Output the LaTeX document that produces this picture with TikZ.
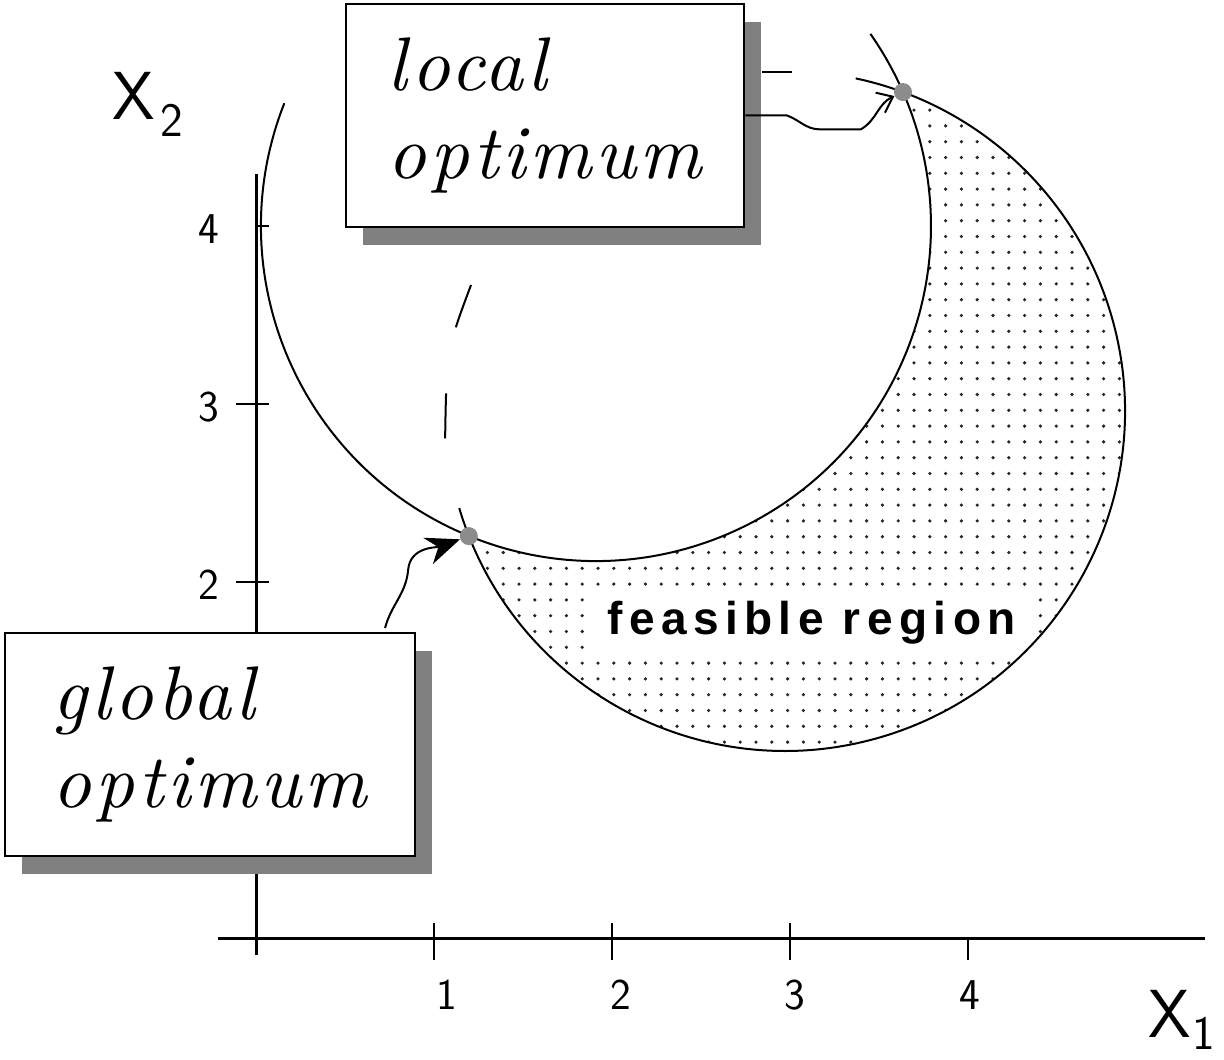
\documentclass[tikz,border=0pt]{standalone}
\usepackage{fontspec}
\usepackage{tikz}
\usetikzlibrary{arrows.meta,shadows}

\newfontfamily\optfont[LetterSpace=5]{lmroman10-italic.otf}
\newfontfamily\regionfont[LetterSpace=14]{Liberation Sans}

\begin{document}
\begin{tikzpicture}[
      x=89pt, y=89pt,
      bound/.style={line width=1pt},
      axisln/.style={line width=1.5pt},
      tk/.style={line width=1pt},
      ticklbl/.style={font=\sffamily\fontsize{22}{22}\selectfont, inner sep=0pt},
      axlbl/.style={font=\sffamily\fontsize{34}{34}\selectfont, inner sep=0pt},
      optbox/.style={draw, line width=1.4pt, fill=white, align=left, inner sep=0pt,
        minimum height=111.5pt, font=\optfont\fontsize{38}{44}\selectfont,
        drop shadow={shadow xshift=8.5pt, shadow yshift=-9pt, fill=black!50, opacity=1}},
      optdot/.style={circle, fill=black!45, inner sep=0pt, minimum size=9pt},
      region/.style={fill=white, inner sep=0pt, minimum width=221.5pt, minimum height=32.5pt,
        font=\regionfont\bfseries\fontsize{23}{23}\selectfont},
      contour/.style={line width=1pt, dash pattern=on 22.5pt off 33.5pt},
      ar/.style={line width=1pt, -{Straight Barb[length=7pt, width=11pt]}},
      gar/.style={line width=1pt, -{Stealth[length=17pt, width=14pt]}}]
    \useasboundingbox (-1.4382,-0.6798) rectangle (5.4382,5.2697);

    \coordinate (cfeas) at (2.972,2.961);
    \coordinate (cobj)  at (1.910,4.0);
    \coordinate (gpt)   at (1.1957,2.2579);
    \coordinate (lpt)   at (3.6346,4.7524);

    % dotted feasible set
    \begin{scope}
      \clip (gpt) arc[start angle=201.6, end angle=429.7, radius=1.910]
        arc[start angle=23.6, end angle=-112.3, radius=1.882] -- cycle;
      \foreach \i in {0,...,43}
        \foreach \j in {0,...,43}
          \fill[black!85] ({1.1227+0.08876*\i},{1.0119+0.08876*\j}) circle[radius=0.9pt];
    \end{scope}
    \node[region] (feas) at (3.121,1.772) {feasible region};

    \draw[bound] ([shift={(196.6:1.910)}]cfeas) arc[start angle=196.6, end angle=438, radius=1.910];
    \draw[bound] ([shift={(158.5:1.882)}]cobj) arc[start angle=158.5, end angle=395, radius=1.882];
    \draw[contour] (1.208,3.669) .. controls (1.07,3.30) .. (1.062,2.77);

    % axes
    \draw[axisln] (-0.2135,0) -- (5.331,0);
    \draw[axisln] (0,-0.096) -- (0,4.29);
    \foreach \t in {1,2,3}
      \draw[tk] (\t,0.084) -- (\t,-0.124);
    \draw[tk] (4,0) -- (4,-0.124);
    \foreach \t in {2,3}
      \draw[tk] (-0.112,\t) -- (0.073,\t);
    \draw[tk] (0,4) -- (0.073,4);
    \foreach \t/\px in {1/1.073, 2/2.051, 3/3.028, 4/4.011}
      \node[ticklbl] (xt\t) at (\px,-0.320) {\t};
    \foreach \t in {2,3,4}
      \node[ticklbl] (yt\t) at (-0.264,\t-0.015) {\t};
    \node[axlbl, anchor=base west] (xtwo) at (-0.809,4.596)
      {X\hspace{3pt}\raisebox{-8.5pt}{\fontsize{24}{24}\selectfont 2}};
    \node[axlbl, anchor=base west] (xone) at (5.01,-0.56)
      {X\hspace{1pt}\raisebox{-6pt}{\fontsize{24}{24}\selectfont 1}};

    % labels
    \node[optbox, minimum width=199pt] (lbox) at (1.624,4.621) {local\\optimum};
    \node[optbox, minimum width=205pt] (gbox) at (-0.258,1.087) {global\\optimum};
    \coordinate (stubA) at (2.843,4.865);
    \coordinate (stubB) at (3.011,4.865);
    \draw[bound] (stubA) -- (stubB);

    \node[optdot] (gopt) at (gpt) {};
    \node[optdot] (lopt) at (lpt) {};

    \draw[ar] (lbox.east) -- ++(0.233,0) to[out=-20,in=180] ++(0.185,-0.078)
      -- ++(0.23,0) to[out=30,in=205] (lopt);
    \coordinate (gtail) at (0.725,1.742);
    \draw[gar] (gtail) to[out=75,in=-95] (0.855,2.07) to[out=85,in=200] (gopt);
  \end{tikzpicture}
\end{document}
